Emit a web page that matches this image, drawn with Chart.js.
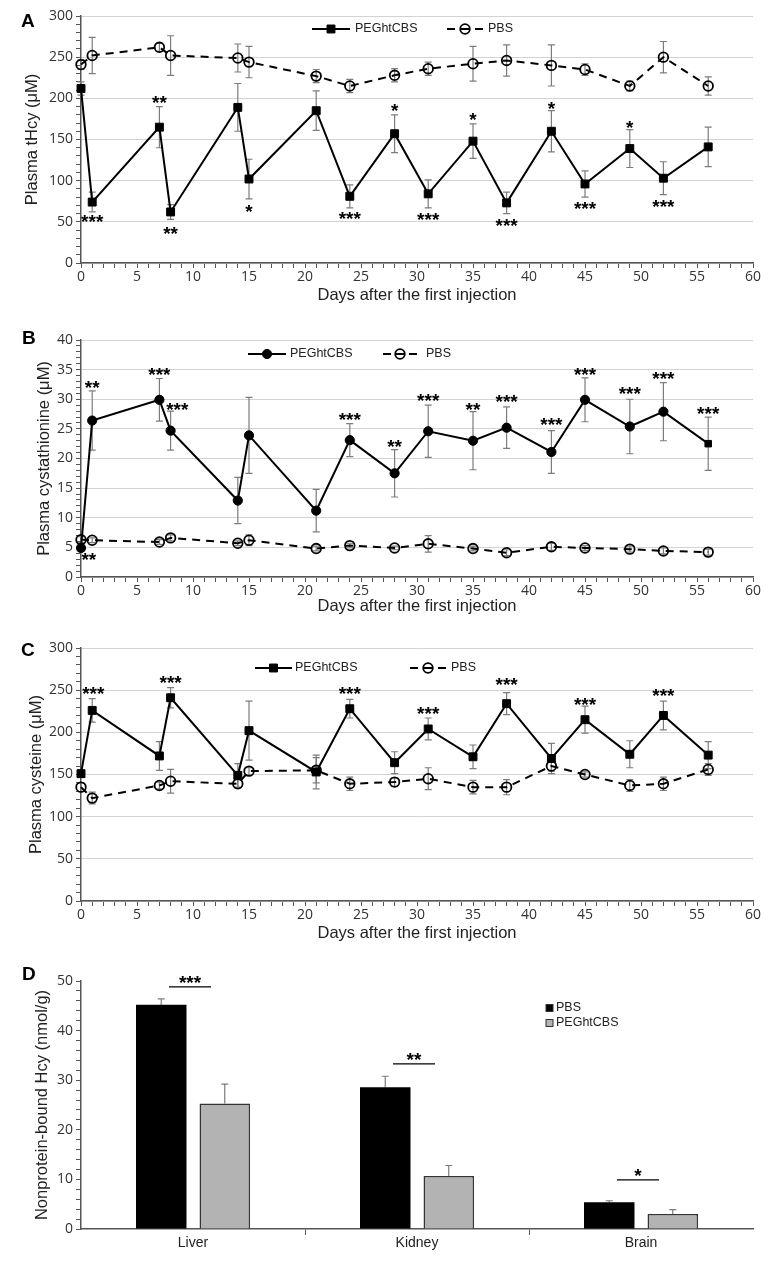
<!DOCTYPE html>
<html>
<head>
<meta charset="utf-8">
<script src="https://cdn.jsdelivr.net/npm/chart.js@4.4.1/dist/chart.umd.min.js"></script>
<style>
    body { margin: 0; background: #fff; }
    #page { position: relative; width: 773px; height: 1265px; overflow: hidden; background: #fff; }
    .panel { position: absolute; left: 0; width: 773px; }
    .letter { position: absolute; font: bold 19px "Liberation Sans", Arial, sans-serif; line-height: 19px; color: #000; }
</style>
</head>
<body>
<div id="page">
    <div class="panel" style="top:0;height:305px"><canvas id="chartA"></canvas></div>
    <div class="panel" style="top:305px;height:311px"><canvas id="chartB"></canvas></div>
    <div class="panel" style="top:616px;height:327px"><canvas id="chartC"></canvas></div>
    <div class="panel" style="top:943px;height:322px"><canvas id="chartD"></canvas></div>
    <div class="letter" style="left:21px;top:11px">A</div>
    <div class="letter" style="left:22px;top:328px">B</div>
    <div class="letter" style="left:21px;top:640px">C</div>
    <div class="letter" style="left:22px;top:964px">D</div>
</div>
<script>
// sampling days, shared by panels A-C
const days = [0, 1, 7, 8, 14, 15, 21, 24, 28, 31, 35, 38, 42, 45, 49, 52, 56]

// A: plasma tHcy (uM)
const hcyPeg = [212, 74, 165, 62, 189, 102, 185, 81, 157, 84, 148, 73, 160, 96, 139, 103, 141]
const hcyPegErr = [8, 12, 25, 9, 29, 24, 24, 14, 23, 17, 21, 13, 25, 16, 23, 20, 24]
const hcyPbs = [241, 252, 262, 252, 249, 244, 227, 215, 228, 236, 242, 246, 240, 235, 215, 250, 215]
const hcyPbsErr = [6, 22, 5, 24, 17, 19, 8, 8, 8, 8, 21, 19, 25, 7, 6, 19, 11]
const hcySigDays = [1, 7, 8, 15, 24, 28, 31, 35, 38, 42, 45, 49, 52]
const hcySigVals = [54, 199, 40, 66, 58, 189, 57, 178, 50, 191, 70, 169, 73]
const hcySigText = ['***', '**', '**', '*', '***', '*', '***', '*', '***', '*', '***', '*', '***']

// B: plasma cystathionine (uM)
const cthPeg = [4.9, 26.4, 29.9, 24.7, 12.9, 23.9, 11.2, 23.1, 17.5, 24.6, 23.0, 25.2, 21.1, 29.9, 25.4, 27.9, 22.5]
const cthPegErr = [0.6, 5.0, 3.6, 3.3, 3.9, 6.4, 3.6, 2.8, 4.0, 4.4, 4.9, 3.5, 3.6, 3.7, 4.6, 4.9, 4.5]
const cthPbs = [6.3, 6.2, 5.9, 6.6, 5.7, 6.2, 4.8, 5.3, 4.9, 5.6, 4.8, 4.1, 5.1, 4.9, 4.7, 4.4, 4.2]
const cthPbsErr = [0.5, 0.4, 0.4, 0.5, 0.4, 0.9, 0.4, 0.4, 0.3, 1.4, 0.4, 0.5, 0.6, 0.4, 0.5, 0.5, 0.5]
const cthSigDays = [0.7, 1, 7, 8.6, 24, 28, 31, 35, 38, 42, 45, 49, 52, 56]
const cthSigVals = [3.5, 32.5, 34.8, 28.9, 27.2, 22.6, 30.3, 28.9, 30.2, 26.3, 34.7, 31.6, 34.1, 28.2]
const cthSigText = ['**', '**', '***', '***', '***', '**', '***', '**', '***', '***', '***', '***', '***', '***']

// C: plasma cysteine (uM)
const cysPeg = [151, 226, 172, 241, 149, 202, 153, 228, 164, 204, 171, 234, 169, 215, 174, 220, 173]
const cysPegErr = [4, 14, 17, 12, 14, 35, 20, 11, 13, 13, 14, 13, 18, 16, 16, 17, 16]
const cysPbs = [135, 122, 137, 142, 139, 154, 155, 139, 141, 145, 135, 135, 160, 150, 137, 139, 156]
const cysPbsErr = [5, 7, 4, 14, 5, 4, 15, 8, 5, 13, 8, 9, 6, 3, 7, 8, 7]
const cysSigDays = [1.1, 8, 24, 31, 38, 45, 52]
const cysSigVals = [250, 263, 250, 226, 260, 237, 247]
const cysSigText = ['***', '***', '***', '***', '***', '***', '***']

// D: nonprotein-bound Hcy in tissues (nmol/g)
const tissues = ['Liver', 'Kidney', 'Brain']
const tissuePbs = [45.2, 28.6, 5.4]
const tissuePbsErr = [1.2, 2.2, 0.3]
const tissuePeg = [25.3, 10.7, 3.0]
const tissuePegErr = [3.9, 2.1, 0.9]
const tissueSigVals = [48.8, 33.3, 9.9]
const tissueSigText = ['***', '**', '*']

const tickFont = {family: '"Open Sans", "DejaVu Sans", sans-serif', size: 14}
const titleFont = {family: '"Liberation Sans", Arial, sans-serif', size: 16.5}
const starFont = 'bold 19px "Liberation Sans", Arial, sans-serif'
const axisColor = '#555'

function points(vals) {
    return days.map((d, i) => ({x: d, y: vals[i]}))
}

function valueOf(d) {
    return (d !== null && typeof d === 'object') ? d.y : d
}

const errorBars = {
    id: 'errorBars',
    beforeDatasetsDraw(chart) {
        const ctx = chart.ctx
        const ys = chart.scales.y
        chart.data.datasets.forEach((ds, i) => {
            if (!ds.errors) return
            const meta = chart.getDatasetMeta(i)
            ctx.save()
            ctx.strokeStyle = '#7c7c7c'
            ctx.lineWidth = 1.2
            meta.data.forEach((el, j) => {
                const v = valueOf(ds.data[j])
                const e = ds.errors[j]
                const x = el.x
                const yTop = ys.getPixelForValue(v + e)
                const yBot = ys.getPixelForValue(ds.upOnly ? v : v - e)
                ctx.beginPath()
                ctx.moveTo(x, yTop)
                ctx.lineTo(x, yBot)
                ctx.moveTo(x - 3.5, yTop)
                ctx.lineTo(x + 3.5, yTop)
                if (!ds.upOnly) {
                    ctx.moveTo(x - 3.5, yBot)
                    ctx.lineTo(x + 3.5, yBot)
                }
                ctx.stroke()
            })
            ctx.restore()
        })
    }
}

const sigStars = {
    id: 'sigStars',
    afterDatasetsDraw(chart, args, opts) {
        if (!opts.texts) return
        const ctx = chart.ctx
        const xs = chart.scales.x
        const ys = chart.scales.y
        ctx.save()
        ctx.font = starFont
        ctx.fillStyle = '#000'
        ctx.textAlign = 'center'
        ctx.textBaseline = 'middle'
        for (let i = 0; i < opts.texts.length; i++) {
            ctx.fillText(opts.texts[i], xs.getPixelForValue(opts.xs[i]), ys.getPixelForValue(opts.ys[i]) + 4.5)
        }
        ctx.restore()
    }
}

// legend drawn as line + marker + label, like the spreadsheet original
const lineLegend = {
    id: 'lineLegend',
    afterDraw(chart, args, opts) {
        if (!opts.items) return
        const ctx = chart.ctx
        const y = opts.y
        ctx.save()
        opts.items.forEach(it => {
            const ds = chart.data.datasets[it.dataset]
            const mid = (it.x0 + it.x1) / 2
            ctx.strokeStyle = '#000'
            ctx.lineWidth = 2
            ctx.beginPath()
            if (it.dashed) {
                ctx.moveTo(it.x0, y)
                ctx.lineTo(it.x0 + 8, y)
                ctx.moveTo(mid - 5, y)
                ctx.lineTo(mid + 5, y)
                ctx.moveTo(it.x1 - 8, y)
                ctx.lineTo(it.x1, y)
            } else {
                ctx.moveTo(it.x0, y)
                ctx.lineTo(it.x1, y)
            }
            ctx.stroke()
            const style = Array.isArray(ds.pointStyle) ? ds.pointStyle[0] : ds.pointStyle
            ctx.fillStyle = ds.pointBackgroundColor
            ctx.strokeStyle = '#000'
            ctx.lineWidth = ds.pointBorderWidth
            Chart.helpers.drawPoint(ctx, {pointStyle: style, radius: ds.pointRadius, borderWidth: ds.pointBorderWidth, rotation: 0}, mid, y)
            ctx.fillStyle = '#222'
            ctx.font = '12.5px "Liberation Sans", Arial, sans-serif'
            ctx.textAlign = 'left'
            ctx.textBaseline = 'middle'
            ctx.fillText(ds.label, it.tx, y)
        })
        ctx.restore()
    }
}

function lineChart(id, o) {
    return new Chart(document.getElementById(id), {
        type: 'line',
        data: {
            datasets: [
                {
                    label: 'PEGhtCBS',
                    data: points(o.peg),
                    errors: o.pegErr,
                    clip: false,
                    borderColor: '#000',
                    borderWidth: 2,
                    pointStyle: o.pegStyle,
                    pointRadius: o.pegRadius,
                    pointBackgroundColor: '#000',
                    pointBorderColor: '#000',
                    pointBorderWidth: 1,
                },
                {
                    label: 'PBS',
                    data: points(o.pbs),
                    errors: o.pbsErr,
                    clip: false,
                    borderColor: '#000',
                    borderWidth: 2,
                    borderDash: [8, 6],
                    pointStyle: 'circle',
                    pointRadius: 4.8,
                    pointBackgroundColor: 'rgba(255,255,255,0)',
                    pointBorderColor: '#000',
                    pointBorderWidth: 1.8,
                },
            ]
        },
        options: {
            responsive: true,
            maintainAspectRatio: false,
            animation: false,
            layout: {padding: {top: o.top, right: 20, left: 0, bottom: 0}},
            plugins: {
                legend: {display: false},
                tooltip: {enabled: false},
                sigStars: {xs: o.sigDays, ys: o.sigVals, texts: o.sigText},
                lineLegend: o.legend,
            },
            scales: {
                x: {
                    type: 'linear',
                    min: 0,
                    max: 60,
                    ticks: {
                        stepSize: 1,
                        autoSkip: false,
                        maxRotation: 0,
                        padding: 1,
                        font: tickFont,
                        color: '#333',
                        callback: v => v % 5 === 0 ? v : '',
                    },
                    grid: {drawOnChartArea: false, tickLength: 5, tickColor: axisColor, color: axisColor},
                    border: {color: axisColor, width: 1.5},
                    title: {display: true, text: 'Days after the first injection', font: titleFont, color: '#222', padding: 0},
                    afterFit: s => { s.height = o.xHeight },
                },
                y: {
                    min: 0,
                    max: o.ymax,
                    ticks: {
                        stepSize: o.minor,
                        autoSkip: false,
                        padding: 3,
                        font: tickFont,
                        color: '#333',
                        callback: v => v % o.major === 0 ? v : '',
                    },
                    grid: {
                        color: c => (c.tick && c.tick.value % o.major === 0) ? '#d3d3d3' : 'rgba(0,0,0,0)',
                        tickColor: axisColor,
                        tickLength: 5,
                    },
                    border: {color: axisColor, width: 1.5},
                    title: {display: true, text: o.yTitle, font: titleFont, color: '#222', padding: {top: o.yTitlePad, bottom: 0}},
                    afterFit: s => { s.width = 81 },
                },
            },
        },
        plugins: [errorBars, sigStars, lineLegend],
    })
}

lineChart('chartA', {
    peg: hcyPeg, pegErr: hcyPegErr, pbs: hcyPbs, pbsErr: hcyPbsErr,
    pegStyle: 'rect', pegRadius: 5.6,
    sigDays: hcySigDays, sigVals: hcySigVals, sigText: hcySigText,
    ymax: 300, major: 50, minor: 10,
    yTitle: 'Plasma tHcy (\u03bcM)', yTitlePad: 23,
    top: 16, xHeight: 42,
    legend: {y: 29, items: [
        {dataset: 0, x0: 312, x1: 350, tx: 355},
        {dataset: 1, x0: 447, x1: 483, tx: 488, dashed: true},
    ]},
})

lineChart('chartB', {
    peg: cthPeg, pegErr: cthPegErr, pbs: cthPbs, pbsErr: cthPbsErr,
    pegStyle: days.map((d, i) => i === days.length - 1 ? 'rect' : 'circle'), pegRadius: 4.6,
    sigDays: cthSigDays, sigVals: cthSigVals, sigText: cthSigText,
    ymax: 40, major: 5, minor: 1,
    yTitle: 'Plasma cystathionine (\u03bcM)', yTitlePad: 35,
    top: 35, xHeight: 39,
    legend: {y: 49, items: [
        {dataset: 0, x0: 248, x1: 286, tx: 290},
        {dataset: 1, x0: 383, x1: 417, tx: 426, dashed: true},
    ]},
})

lineChart('chartC', {
    peg: cysPeg, pegErr: cysPegErr, pbs: cysPbs, pbsErr: cysPbsErr,
    pegStyle: 'rect', pegRadius: 5.6,
    sigDays: cysSigDays, sigVals: cysSigVals, sigText: cysSigText,
    ymax: 300, major: 50, minor: 10,
    yTitle: 'Plasma cysteine (\u03bcM)', yTitlePad: 27,
    top: 32, xHeight: 42,
    legend: {y: 52, items: [
        {dataset: 0, x0: 255, x1: 292, tx: 295},
        {dataset: 1, x0: 410, x1: 446, tx: 451, dashed: true},
    ]},
})

// significance brackets over each tissue group
const sigBrackets = {
    id: 'sigBrackets',
    afterDatasetsDraw(chart, args, opts) {
        const ctx = chart.ctx
        const xs = chart.scales.x
        const ys = chart.scales.y
        ctx.save()
        for (let i = 0; i < opts.texts.length; i++) {
            const cx = xs.getPixelForValue(i)
            const y = ys.getPixelForValue(opts.ys[i])
            ctx.strokeStyle = '#000'
            ctx.lineWidth = 1.3
            ctx.beginPath()
            ctx.moveTo(cx - 24, y)
            ctx.lineTo(cx + 18, y)
            ctx.stroke()
            ctx.fillStyle = '#000'
            ctx.font = starFont
            ctx.textAlign = 'center'
            ctx.textBaseline = 'middle'
            ctx.fillText(opts.texts[i], cx - 3, y - 3)
        }
        ctx.restore()
    }
}

const barLegend = {
    id: 'barLegend',
    afterDraw(chart, args, opts) {
        const ctx = chart.ctx
        ctx.save()
        chart.data.datasets.forEach((ds, i) => {
            const y = opts.y + i * 15
            ctx.fillStyle = ds.backgroundColor
            ctx.fillRect(opts.x, y - 3.5, 7, 7)
            ctx.strokeStyle = '#333'
            ctx.lineWidth = 1
            ctx.strokeRect(opts.x, y - 3.5, 7, 7)
            ctx.fillStyle = '#222'
            ctx.font = '12.5px "Liberation Sans", Arial, sans-serif'
            ctx.textAlign = 'left'
            ctx.textBaseline = 'middle'
            ctx.fillText(ds.label, opts.x + 10, y)
        })
        ctx.restore()
    }
}

new Chart(document.getElementById('chartD'), {
    type: 'bar',
    data: {
        labels: tissues,
        datasets: [
            {label: 'PBS', data: tissuePbs, errors: tissuePbsErr, upOnly: true, backgroundColor: '#000', borderWidth: 0},
            {label: 'PEGhtCBS', data: tissuePeg, errors: tissuePegErr, upOnly: true, backgroundColor: '#b3b3b3', borderColor: '#333', borderWidth: 1.5},
        ]
    },
    options: {
        responsive: true,
        maintainAspectRatio: false,
        animation: false,
        categoryPercentage: 0.567,
        barPercentage: 0.795,
        layout: {padding: {top: 38, right: 20, left: 0, bottom: 0}},
        plugins: {
            legend: {display: false},
            tooltip: {enabled: false},
            sigBrackets: {ys: tissueSigVals, texts: tissueSigText},
            barLegend: {x: 546, y: 65},
        },
        scales: {
            x: {
                ticks: {font: {family: '"Liberation Sans", Arial, sans-serif', size: 14}, color: '#222', padding: 0},
                grid: {
                    offset: true,
                    drawOnChartArea: false,
                    tickLength: 6,
                    tickColor: c => (c.type !== 'tick' || c.index === 0) ? 'rgba(0,0,0,0)' : axisColor,
                },
                border: {color: axisColor, width: 1.5},
                afterFit: s => { s.height = 36 },
            },
            y: {
                min: 0,
                max: 50,
                ticks: {
                    stepSize: 2,
                    autoSkip: false,
                    padding: 3,
                    font: tickFont,
                    color: '#333',
                    callback: v => v % 10 === 0 ? v : '',
                },
                grid: {color: 'rgba(0,0,0,0)', tickColor: axisColor, tickLength: 5},
                border: {color: axisColor, width: 1.5},
                title: {display: true, text: 'Nonprotein-bound Hcy (nmol/g)', font: titleFont, color: '#222', padding: {top: 33, bottom: 0}},
                afterFit: s => { s.width = 81 },
            },
        },
    },
    plugins: [errorBars, sigBrackets, barLegend],
})
</script>
</body>
</html>
